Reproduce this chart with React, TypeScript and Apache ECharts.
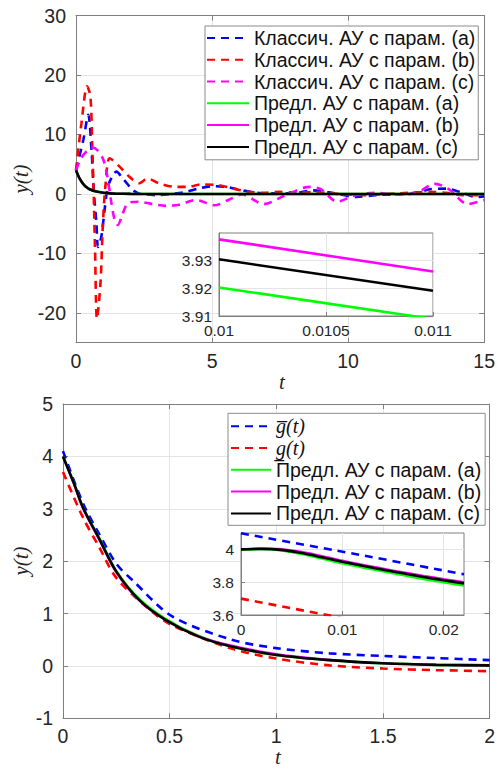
import React, { useEffect, useRef } from 'react';
import * as echarts from 'echarts';

// ---------- Top chart: main panel ----------
const topXTicks = [0, 5, 10, 15];
const topYTicks = [-20, -10, 0, 10, 20, 30];

const tClsA = [0, 0.27, 0.45, 0.57, 0.65, 0.75, 0.81, 0.93, 1.05, 1.17, 1.36, 1.48, 1.72, 2.08, 2.3, 2.6, 3.0, 3.5, 4.0, 4.5, 5.0, 5.5, 6.0, 6.5, 7.0, 8.0, 8.7, 9.5, 10.3, 11.0, 12.0, 12.6, 13.0, 13.6, 14.2, 14.7, 15];
const yClsA = [4, 9.1, 13.3, 7.4, 0.7, -4.9, -8.9, -7.2, -2.7, 1.2, 3.2, 3.75, 2.6, 0.7, 0.1, -0.1, -0.2, 0, 0.3, 0.9, 1.3, 1.2, 0.7, 0.3, 0.1, 0.1, 0.6, 0.1, -0.5, -0.2, 0, 0.3, 0.8, 0.9, 0.2, -0.5, -0.4];

const tClsB = [0, 0.2, 0.41, 0.53, 0.6, 0.65, 0.7, 0.77, 0.9, 0.99, 1.09, 1.24, 1.6, 1.96, 2.32, 2.63, 3.05, 3.66, 4.1, 4.6, 5.2, 5.7, 6.3, 6.9, 7.5, 8.1, 8.7, 9.35, 10.6, 11.8, 13.0, 13.6, 14.2, 15];
const yClsB = [4, 11.9, 18.1, 16.4, 7.4, 0.1, -9.4, -21, -15, -4.9, 1.8, 6.0, 4.6, 2.9, 1.8, 2.6, 1.8, 1.2, 1.2, 1.6, 1.5, 1.0, 0.4, 0.2, 0.35, 0.2, 0.35, 0.1, -0.2, 0.1, 0.35, 0.2, -0.2, -0.2];

const tClsC = [0, 0.15, 0.35, 0.6, 0.8, 1.0, 1.15, 1.3, 1.42, 1.54, 1.7, 1.9, 2.3, 2.8, 3.3, 3.8, 4.4, 5.1, 5.6, 6.1, 6.9, 7.7, 8.6, 9.0, 9.6, 10.2, 11, 11.8, 12.5, 13.2, 13.7, 14.4, 15];
const yClsC = [4, 5.7, 7.0, 7.8, 7.3, 5.8, 3.0, -1.5, -4.3, -5.2, -3.5, -1.6, -1.3, -1.7, -2.0, -1.8, -1.0, -1.9, -1.0, -0.1, -1.7, -0.2, 1.2, 0.8, -1.3, -0.3, 0.2, -0.1, 0.2, 1.7, 0.8, -1.7, -1.0];

const tPropTop = [0, 0.1, 0.2, 0.3, 0.4, 0.5, 0.75, 1.0, 1.25, 1.5, 2, 3, 5, 8, 11, 15];
const yPropTopA = [4.0, 2.9, 2.1, 1.5, 1.1, 0.8, 0.4, 0.2, 0.1, 0.05, 0.02, 0, 0, 0, 0, 0];
const yPropTopB = [4.0, 2.9, 2.1, 1.5, 1.1, 0.8, 0.4, 0.2, 0.1, 0.05, 0.02, 0, 0, 0, 0, 0];
const yPropTopC = [4.0, 2.9, 2.1, 1.5, 1.1, 0.8, 0.4, 0.2, 0.1, 0.05, 0.02, 0, 0, 0, 0, 0];

// ---------- Top chart: inset ----------
const inset1XTicks = [0.01, 0.0105, 0.011];
const inset1YTicks = [3.91, 3.92, 3.93];
const tInset1 = [0.01, 0.011];
const yInset1A = [3.9203, 3.9089];
const yInset1B = [3.9377, 3.9261];
const yInset1C = [3.9305, 3.9191];

// ---------- Bottom chart: main panel ----------
const botXTicks = [0, 0.5, 1, 1.5, 2];
const botYTicks = [-1, 0, 1, 2, 3, 4, 5];
const tUpper = [0, 0.094, 0.172, 0.25, 0.33, 0.51, 0.79, 1.0, 1.25, 1.5, 1.75, 2.0];
const yUpper = [4.1, 3.1, 2.5, 1.95, 1.62, 0.95, 0.5, 0.34, 0.24, 0.19, 0.15, 0.11];
const tLower = [0, 0.094, 0.172, 0.25, 0.39, 0.51, 0.79, 1.0, 1.25, 1.5, 1.75, 2.0];
const yLower = [3.7, 2.83, 2.25, 1.68, 1.13, 0.78, 0.33, 0.14, 0.01, -0.05, -0.08, -0.1];
const tPropBot = [0, 0.05, 0.094, 0.172, 0.25, 0.357, 0.48, 0.636, 0.79, 1.0, 1.25, 1.5, 1.75, 2.0];
const yPropBotA = [4.0, 3.5, 3.02, 2.42, 1.81, 1.28, 0.9, 0.57, 0.37, 0.21, 0.11, 0.05, 0.02, 0.01];
const yPropBotB = [4.0, 3.48, 3.0, 2.39, 1.78, 1.25, 0.88, 0.57, 0.39, 0.23, 0.12, 0.05, 0.02, 0.01];
const yPropBotC = [4.0, 3.5, 3.02, 2.41, 1.8, 1.26, 0.88, 0.56, 0.37, 0.21, 0.11, 0.05, 0.02, 0.01];

// ---------- Bottom chart: inset ----------
const inset2XTicks = [0, 0.01, 0.02];
const inset2YTicks = [3.6, 3.8, 4.0];
const tInset2Upper = [0, 0.011, 0.022];
const yInset2Upper = [4.098, 3.975, 3.848];
const tInset2Lower = [0, 0.022];
const yInset2Lower = [3.70, 3.44];
const tInset2 = [0, 0.002, 0.004, 0.006, 0.008, 0.01, 0.012, 0.015, 0.018, 0.02, 0.022];
const yInset2A = [4.0, 4.002, 3.994, 3.972, 3.944, 3.915, 3.89, 3.855, 3.82, 3.8, 3.78];
const yInset2B = [4.0, 4.006, 4.003, 3.985, 3.96, 3.932, 3.907, 3.872, 3.84, 3.82, 3.802];
const yInset2C = [4.0, 4.003, 3.997, 3.978, 3.952, 3.925, 3.9, 3.865, 3.832, 3.812, 3.793];

const NAME_CA = 'Классич. АУ с парам. (a)';
const NAME_CB = 'Классич. АУ с парам. (b)';
const NAME_CC = 'Классич. АУ с парам. (c)';
const NAME_PA = 'Предл. АУ с парам. (a)';
const NAME_PB = 'Предл. АУ с парам. (b)';
const NAME_PC = 'Предл. АУ с парам. (c)';
const NAME_UP = 'g\u0305(t)';
const NAME_LO = 'g\u0332(t)';

const BLUE = '#0000ff';
const RED = '#ff0000';
const MAG = '#ff00ff';
const GREEN = '#00ff00';
const BLACK = '#000000';

const AXIS_COLOR = '#7f7f7f';
const GRID_COLOR = '#e4e4e4';
const TEXT_COLOR = '#262626';
const SANS = '"Liberation Sans", Arial, sans-serif';
const SERIF = '"Liberation Serif", "DejaVu Serif", serif';
const DASH = [8, 6];

const zip = (t: number[], y: number[]) => t.map((v, i) => [v, y[i]]);

function line(name: string, t: number[], y: number[], color: string, dashed: boolean, axis: number, z: number, width = 2.6, smooth: number | boolean = 0.3) {
  return {
    type: 'line',
    name,
    data: zip(t, y),
    xAxisIndex: axis,
    yAxisIndex: axis,
    symbol: 'none',
    showSymbol: false,
    smooth,
    z,
    clip: true,
    lineStyle: { color, width, type: dashed ? DASH : 'solid', cap: 'butt' },
    itemStyle: { color },
    emphasis: { disabled: true },
  };
}

function mainX(gridIndex: number, min: number, max: number, interval: number, ticks: number[], top = false) {
  return {
    type: 'value', gridIndex, min, max, interval,
    position: top ? 'top' : 'bottom',
    axisLine: { show: true, onZero: false, lineStyle: { color: AXIS_COLOR, width: 1 } },
    axisTick: { show: true, inside: true, length: 5, customValues: ticks, lineStyle: { color: AXIS_COLOR } },
    axisLabel: { show: !top, customValues: ticks, margin: 8, color: TEXT_COLOR, fontSize: 19.5, fontFamily: SANS },
    splitLine: { show: !top, lineStyle: { color: GRID_COLOR, width: 1 } },
  };
}
function mainY(gridIndex: number, min: number, max: number, interval: number, ticks: number[], right = false) {
  return {
    type: 'value', gridIndex, min, max, interval,
    position: right ? 'right' : 'left',
    axisLine: { show: true, onZero: false, lineStyle: { color: AXIS_COLOR, width: 1 } },
    axisTick: { show: true, inside: true, length: 5, customValues: ticks, lineStyle: { color: AXIS_COLOR } },
    axisLabel: { show: !right, customValues: ticks, margin: 10, color: TEXT_COLOR, fontSize: 19.5, fontFamily: SANS },
    splitLine: { show: !right, lineStyle: { color: GRID_COLOR, width: 1 } },
  };
}
function insetX(gridIndex: number, min: number, max: number, ticks: number[], fmt: (v: number) => string) {
  return {
    type: 'value', gridIndex, min, max, z: 4,
    axisLine: { show: true, onZero: false, lineStyle: { color: AXIS_COLOR, width: 1 } },
    axisTick: { show: true, inside: true, length: 4, customValues: ticks, lineStyle: { color: AXIS_COLOR } },
    axisLabel: { show: true, customValues: ticks, margin: 6, color: TEXT_COLOR, fontSize: 15.5, fontFamily: SANS, formatter: fmt },
    splitLine: { show: true, lineStyle: { color: GRID_COLOR, width: 1 } },
  };
}
function insetY(gridIndex: number, min: number, max: number, ticks: number[], fmt: (v: number) => string) {
  return {
    type: 'value', gridIndex, min, max, z: 4,
    axisLine: { show: true, onZero: false, lineStyle: { color: AXIS_COLOR, width: 1 } },
    axisTick: { show: true, inside: true, length: 4, customValues: ticks, lineStyle: { color: AXIS_COLOR } },
    axisLabel: { show: true, customValues: ticks, margin: 7, color: TEXT_COLOR, fontSize: 15.5, fontFamily: SANS, formatter: fmt },
    splitLine: { show: true, lineStyle: { color: GRID_COLOR, width: 1 } },
  };
}

function buildOption() {
  return {
    animation: false,
    backgroundColor: '#ffffff',
    grid: [
      { left: 76, top: 15.5, width: 413, height: 327.2 },
      { left: 219, top: 233, width: 214, height: 83, show: true, backgroundColor: '#ffffff', borderColor: AXIS_COLOR, borderWidth: 1, z: 3 },
      { left: 63, top: 404, width: 431, height: 314.3 },
      { left: 241, top: 533, width: 223, height: 82, show: true, backgroundColor: '#ffffff', borderColor: AXIS_COLOR, borderWidth: 1, z: 3 },
    ],
    xAxis: [
      mainX(0, 0, 15, 5, topXTicks),
      mainX(0, 0, 15, 5, topXTicks, true),
      insetX(1, 0.01, 0.011, inset1XTicks, (v: number) => String(+v.toFixed(4))),
      mainX(2, 0, 2, 0.5, botXTicks),
      mainX(2, 0, 2, 0.5, botXTicks, true),
      insetX(3, 0, 0.022, inset2XTicks, (v: number) => String(+v.toFixed(3))),
    ],
    yAxis: [
      mainY(0, -25, 30, 5, topYTicks),
      mainY(0, -25, 30, 5, topYTicks, true),
      insetY(1, 3.91, 3.94, inset1YTicks, (v: number) => v.toFixed(2)),
      mainY(2, -1, 5, 1, botYTicks),
      mainY(2, -1, 5, 1, botYTicks, true),
      insetY(3, 3.6, 4.1, inset2YTicks, (v: number) => String(+v.toFixed(1))),
    ],
    legend: [
      {
        show: true, orient: 'vertical', left: 205, top: 26,
        data: [NAME_CA, NAME_CB, NAME_CC, NAME_PA, NAME_PB, NAME_PC],
        itemWidth: 42, itemHeight: 14, itemGap: 0, padding: [1, 3, 2, 1],
        backgroundColor: '#ffffff', borderColor: '#8a8a8a', borderWidth: 1,
        selectedMode: false, z: 6,
        itemStyle: { opacity: 0, borderWidth: 0 },
        textStyle: { fontSize: 19.5, fontFamily: SANS, color: '#111', lineHeight: 21.8 },
      },
      {
        show: true, orient: 'vertical', left: 228, top: 413.3,
        data: [NAME_UP, NAME_LO, NAME_PA, NAME_PB, NAME_PC],
        itemWidth: 40, itemHeight: 14, itemGap: 0, padding: [2, 4, 1, 2],
        backgroundColor: '#ffffff', borderColor: '#8a8a8a', borderWidth: 1,
        selectedMode: false, z: 6,
        itemStyle: { opacity: 0, borderWidth: 0 },
        formatter: (name: string) => (name === NAME_UP || name === NAME_LO ? '{m|' + name + '}' : name),
        textStyle: {
          fontSize: 19.5, fontFamily: SANS, color: '#111', lineHeight: 21.8,
          rich: { m: { fontSize: 20, fontFamily: SERIF, fontStyle: 'italic', color: '#111', lineHeight: 21.8 } },
        },
      },
    ],
    series: [
      line(NAME_CA, tClsA, yClsA, BLUE, true, 0, 2),
      line(NAME_CB, tClsB, yClsB, RED, true, 0, 2),
      line(NAME_CC, tClsC, yClsC, MAG, true, 0, 2),
      line(NAME_PA, tPropTop, yPropTopA, GREEN, false, 0, 2),
      line(NAME_PB, tPropTop, yPropTopB, MAG, false, 0, 2, 2),
      line(NAME_PC, tPropTop, yPropTopC, BLACK, false, 0, 2),

      line(NAME_PA, tInset1, yInset1A, GREEN, false, 2, 5, 2.6, false),
      line(NAME_PB, tInset1, yInset1B, MAG, false, 2, 5, 2.6, false),
      line(NAME_PC, tInset1, yInset1C, BLACK, false, 2, 5, 2.6, false),

      line(NAME_UP, tUpper, yUpper, BLUE, true, 3, 2),
      line(NAME_LO, tLower, yLower, RED, true, 3, 2),
      line(NAME_PA, tPropBot, yPropBotA, GREEN, false, 3, 2),
      line(NAME_PB, tPropBot, yPropBotB, MAG, false, 3, 2, 2),
      line(NAME_PC, tPropBot, yPropBotC, BLACK, false, 3, 2),

      line(NAME_UP, tInset2Upper, yInset2Upper, BLUE, true, 5, 5),
      line(NAME_LO, tInset2Lower, yInset2Lower, RED, true, 5, 5, 2.6, false),
      line(NAME_PA, tInset2, yInset2A, GREEN, false, 5, 5),
      line(NAME_PB, tInset2, yInset2B, MAG, false, 5, 5, 2),
      line(NAME_PC, tInset2, yInset2C, BLACK, false, 5, 5),
    ],
    graphic: [
      { type: 'text', x: 21, y: 179, rotation: Math.PI / 2, z: 10,
        style: { text: 'y(t)', font: 'italic 21px ' + SERIF, fill: TEXT_COLOR, align: 'center', verticalAlign: 'middle', textAlign: 'center', textVerticalAlign: 'middle' } },
      { type: 'text', x: 282, y: 382, z: 10,
        style: { text: 't', font: 'italic 21px ' + SERIF, fill: TEXT_COLOR, align: 'center', verticalAlign: 'middle', textAlign: 'center', textVerticalAlign: 'middle' } },
      { type: 'text', x: 21, y: 561, rotation: Math.PI / 2, z: 10,
        style: { text: 'y(t)', font: 'italic 21px ' + SERIF, fill: TEXT_COLOR, align: 'center', verticalAlign: 'middle', textAlign: 'center', textVerticalAlign: 'middle' } },
      { type: 'text', x: 278, y: 757, z: 10,
        style: { text: 't', font: 'italic 21px ' + SERIF, fill: TEXT_COLOR, align: 'center', verticalAlign: 'middle', textAlign: 'center', textVerticalAlign: 'middle' } },
    ],
  };
}

export default function App() {
  const ref = useRef<HTMLDivElement>(null);
  useEffect(() => {
    if (!ref.current) return;
    const chart = echarts.init(ref.current, null, { renderer: 'svg' });
    chart.setOption(buildOption() as any);
    return () => chart.dispose();
  }, []);
  return <div ref={ref} style={{ position: 'fixed', left: 0, top: 0, width: 498, height: 769, background: '#fff' }} />;
}
